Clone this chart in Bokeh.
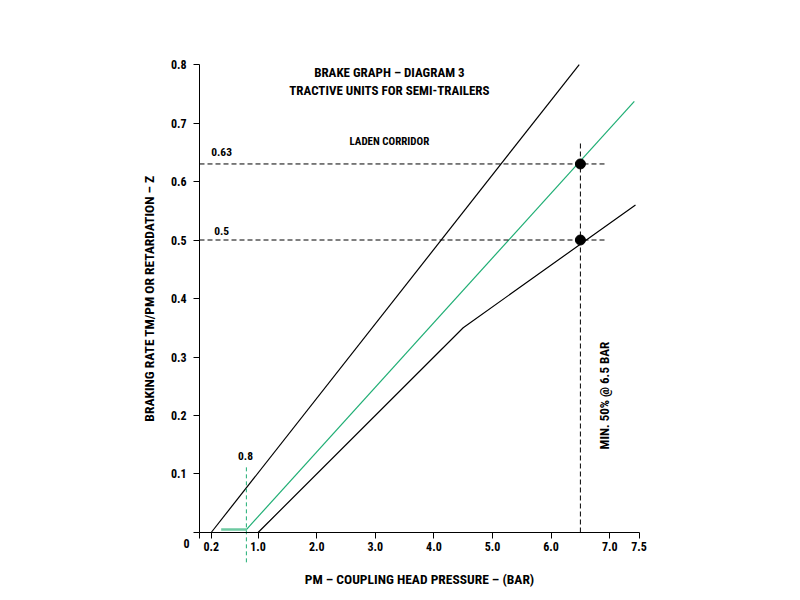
from bokeh.plotting import figure
from bokeh.models import Range1d, LinearAxis, FixedTicker, Label
from bokeh.embed import file_html
from bokeh.resources import INLINE

# ---- data ----
upper_x = [0.2, 6.48]
upper_z = [0.0, 0.8]
green_x = [0.8, 7.42]
green_z = [0.005, 0.737]
green_flat_x = [0.37, 0.8]
green_flat_z = [0.005, 0.005]
lower_x = [1.0, 4.5, 7.44]
lower_z = [0.0, 0.35, 0.56]
laden_levels = [0.63, 0.5]
laden_labels = ["0.63", "0.5"]
laden_end_x = 6.95
min_pressure = 6.5
min_line_top = 0.67
start_pressure = 0.8
start_line = [-0.051, 0.115]
x_ticks = [0, 0.2, 1, 2, 3, 4, 5, 6, 7, 7.5]
x_tick_labels = ["", "0.2", "1.0", "2.0", "3.0", "4.0", "5.0", "6.0", "7.0", "7.5"]
y_ticks = [0, 0.1, 0.2, 0.3, 0.4, 0.5, 0.6, 0.7, 0.8]
y_tick_labels = ["", "0.1", "0.2", "0.3", "0.4", "0.5", "0.6", "0.7", "0.8"]

FONT = "Roboto Condensed"
GREEN = "#1fae74"

p = figure(frame_width=540, frame_height=550,
           min_border_left=130, min_border_right=130,
           min_border_top=45, min_border_bottom=5,
           x_range=Range1d(-1.1775, 8.0375), y_range=Range1d(-0.1077, 0.8325),
           x_axis_location=None, y_axis_location=None,
           output_backend="svg", toolbar_location=None)
p.grid.visible = False
p.outline_line_color = None
p.background_fill_color = "white"

xaxis = LinearAxis(fixed_location=0, bounds=(0, 7.5),
                   ticker=FixedTicker(ticks=x_ticks),
                   major_label_overrides={t: l for t, l in zip(x_ticks, x_tick_labels)},
                   axis_label="PM – COUPLING HEAD PRESSURE – (BAR)")
yaxis = LinearAxis(fixed_location=0, bounds=(0, 0.8),
                   ticker=FixedTicker(ticks=y_ticks),
                   major_label_overrides={t: l for t, l in zip(y_ticks, y_tick_labels)},
                   axis_label="BRAKING RATE TM/PM OR RETARDATION – Z")
for ax in (xaxis, yaxis):
    ax.minor_tick_line_color = None
    ax.major_tick_in = 0
    ax.major_tick_out = 6
    ax.axis_line_color = "black"
    ax.major_tick_line_color = "black"
    ax.major_label_text_font = FONT
    ax.major_label_text_font_style = "bold"
    ax.major_label_text_font_size = "12px"
    ax.major_label_text_color = "black"
    ax.axis_label_text_font = FONT
    ax.axis_label_text_font_style = "bold"
    ax.axis_label_text_font_size = "13.5px"
    ax.axis_label_text_color = "black"
xaxis.major_label_standoff = 4
xaxis.axis_label_standoff = 16
yaxis.major_label_standoff = 7
yaxis.axis_label_standoff = 11
p.add_layout(xaxis, "below")
p.add_layout(yaxis, "left")

# curves
p.line(upper_x, upper_z, line_color="black", line_width=1.2)
p.line(lower_x, lower_z, line_color="black", line_width=1.2)
p.line(green_x, green_z, line_color=GREEN, line_width=1.2)
p.line(green_flat_x, green_flat_z, line_color="#6cc9a1", line_width=2.5)

# dashed reference lines
for lvl in laden_levels:
    p.line([0, laden_end_x], [lvl, lvl], line_color="black", line_width=1, line_dash="5 3")
p.line([min_pressure, min_pressure], [0, min_line_top], line_color="black", line_width=1, line_dash="5 3")
p.line([start_pressure, start_pressure], start_line, line_color=GREEN, line_width=1, line_dash="4 3")

# points
p.scatter([min_pressure] * len(laden_levels), laden_levels, size=10, color="black")

def lab(x, y, text, size="12px", align="left", angle=0):
    p.add_layout(Label(x=x, y=y, text=text, text_font=FONT, text_font_style="bold",
                       text_font_size=size, text_align=align, text_baseline="middle",
                       angle=angle, text_color="black"))

lab(0.2, 0.65, laden_labels[0], size="11.5px")
lab(0.25, 0.515, laden_labels[1], size="11.5px")
lab(3.24, 0.668, "LADEN CORRIDOR", size="11px", align="center")
lab(0.785, 0.13, "0.8", size="11.5px", align="center")
lab(-0.22, -0.019, "0", align="center")
lab(3.24, 0.786, "BRAKE GRAPH – DIAGRAM 3", size="13px", align="center")
lab(3.24, 0.755, "TRACTIVE UNITS FOR SEMI-TRAILERS", size="13px", align="center")
lab(6.91, 0.234, "MIN. 50% @ 6.5 BAR", size="13px", align="center", angle=1.5708)

open("out.html", "w").write(file_html(p, INLINE))
